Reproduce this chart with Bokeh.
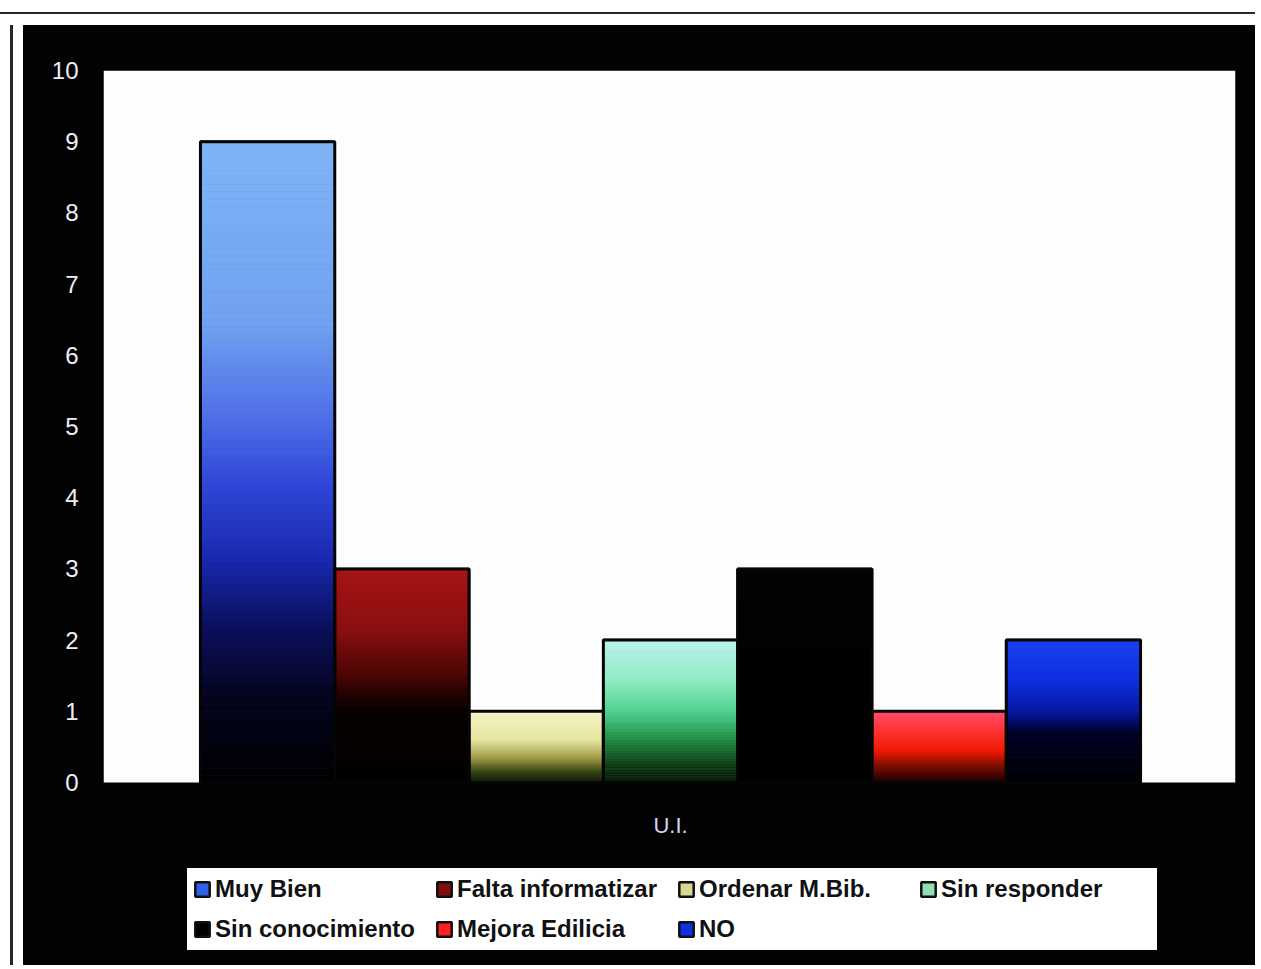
import numpy as np
from bokeh.plotting import figure
from bokeh.models import (ColumnDataSource, Range1d, FixedTicker, Legend, LegendItem,
                          Spacer, Div, BoxAnnotation)
from bokeh.layouts import column, row
from bokeh.embed import file_html
from bokeh.resources import INLINE

# ---------------- data ----------------
categories = ["Muy Bien", "Falta informatizar", "Ordenar M.Bib.", "Sin responder",
              "Sin conocimiento", "Mejora Edilicia", "NO"]
values = [9, 3, 1, 2, 3, 1, 2]
group_label = "U.I."
y_ticks = [0, 1, 2, 3, 4, 5, 6, 7, 8, 9, 10]

# ---------------- style: gradient stops (fraction of bar height from bottom, colour) ----------------
gradient_stops = [
    [(0.0, "#000000"), (0.13, "#04041c"), (0.25, "#0c1060"), (0.35, "#1a28b0"),
     (0.47, "#3048d8"), (0.56, "#4c6ce6"), (0.72, "#72a2f0"), (1.0, "#80b4f6")],
    [(0.0, "#000000"), (0.35, "#080000"), (0.5, "#4a0606"), (0.72, "#8a1010"), (1.0, "#a81515")],
    [(0.0, "#0c1406"), (0.15, "#304010"), (0.35, "#a09a48"), (0.6, "#e6e6a2"), (1.0, "#f6f6c8")],
    [(0.0, "#061406"), (0.12, "#103a14"), (0.3, "#208a44"), (0.5, "#50d090"), (0.72, "#92ecc4"), (1.0, "#bcf2ee")],
    [(0.0, "#000000"), (1.0, "#040404")],
    [(0.0, "#100000"), (0.25, "#801000"), (0.45, "#f01c04"), (0.72, "#ff3434"), (1.0, "#ff5070")],
    [(0.0, "#000000"), (0.35, "#000024"), (0.5, "#0818a0"), (0.72, "#1030e0"), (1.0, "#1a42f0")],
]
legend_colors = ["#3060e8", "#801010", "#d8d890", "#90e0b0", "#000000", "#ff2020", "#1030e0"]

N_SLICES = 90
Y_BOTTOM = -2.528      # frame extends below zero to hold category label and legend
LABEL_Y = -0.60        # vertical position of the category label (data units)
BLACK = "#020202"


def hex_to_rgb(h):
    h = h.lstrip("#")
    return np.array([int(h[i:i + 2], 16) for i in (0, 2, 4)], dtype=float)


def color_at(stops, f):
    fr = [s[0] for s in stops]
    cols = np.array([hex_to_rgb(s[1]) for s in stops])
    rgb = [np.interp(f, fr, cols[:, c]) for c in range(3)]
    return "#%02x%02x%02x" % tuple(int(round(v)) for v in rgb)


p = figure(width=1232, height=940,
           x_range=Range1d(-0.722, 7.707), y_range=Range1d(Y_BOTTOM, 10),
           output_backend="svg", toolbar_location=None, x_axis_location=None,
           min_border_left=80, min_border_right=20, min_border_top=45, min_border_bottom=3,
           background_fill_color=BLACK, border_fill_color=BLACK,
           outline_line_color=None, styles={"background-color": BLACK})
p.xgrid.visible = False
p.ygrid.visible = False

# white plotting area (value range 0..10)
p.add_layout(BoxAnnotation(bottom=0, top=10, fill_color="#fdfdfd", fill_alpha=1.0,
                           line_color=None, level="underlay"))

# representative (legend) quads, drawn first and covered by gradient slices
items = []
for i, (cat, v) in enumerate(zip(categories, values)):
    src = ColumnDataSource(dict(left=[i], right=[i + 1], bottom=[0], top=[v]))
    r = p.quad(left="left", right="right", bottom="bottom", top="top", source=src,
               fill_color=legend_colors[i], line_color="#101010", line_width=2.5)
    items.append(LegendItem(label=cat, renderers=[r]))

# gradient slices
sl = dict(left=[], right=[], bottom=[], top=[], color=[])
for i, v in enumerate(values):
    for k in range(N_SLICES):
        sl["left"].append(i)
        sl["right"].append(i + 1)
        sl["bottom"].append(v * k / N_SLICES)
        sl["top"].append(v * (k + 1) / N_SLICES)
        sl["color"].append(color_at(gradient_stops[i], (k + 0.5) / N_SLICES))
p.quad(left="left", right="right", bottom="bottom", top="top", source=ColumnDataSource(sl),
       fill_color="color", line_color="color", line_width=0.6)

# bar outlines
outline = ColumnDataSource(dict(left=list(range(len(values))),
                                right=[i + 1 for i in range(len(values))],
                                bottom=[0] * len(values), top=values))
p.quad(left="left", right="right", bottom="bottom", top="top", source=outline,
       fill_color=None, line_color="#050505", line_width=3)

# category label under the group
center = len(values) / 2
p.text(x=[center], y=[LABEL_Y], text=[group_label], text_align="center",
       text_baseline="middle", text_color="#d4d4f2", text_font_size="22px",
       text_font={"value": "Liberation Sans"})

# y axis
ya = p.yaxis[0]
ya.ticker = FixedTicker(ticks=y_ticks)
ya.axis_line_color = None
ya.major_tick_line_color = None
ya.minor_tick_line_color = None
ya.major_tick_out = 0
ya.major_tick_in = 0
ya.major_label_standoff = 25
ya.major_label_text_color = "#eeeef8"
ya.major_label_text_font = "Liberation Sans"
ya.major_label_text_font_size = "24px"

legend = Legend(items=items, location=(84, 12), orientation="horizontal", ncols=4,
                label_text_font="Liberation Sans", label_text_font_style="bold",
                label_text_font_size="24px", label_text_color="#111111",
                glyph_width=18, glyph_height=18, label_standoff=4,
                label_width=210, label_height=30, spacing=10, padding=5, margin=0,
                background_fill_color="#ffffff", background_fill_alpha=1.0,
                border_line_color="#ffffff", border_line_width=1)
p.add_layout(legend, "center")

line_col = "#26262e"
top_line = Div(text="", width=1255, height=2, margin=0,
               styles={"background-color": line_col})
left_line = Div(text="", width=3, height=940, margin=0,
                styles={"background-color": line_col})

layout = column(
    Spacer(width=1255, height=12, margin=0),
    top_line,
    Spacer(width=1255, height=11, margin=0),
    row(Spacer(width=10, height=940, margin=0), left_line,
        Spacer(width=10, height=940, margin=0), p),
)

open("out.html", "w").write(file_html(layout, INLINE))
